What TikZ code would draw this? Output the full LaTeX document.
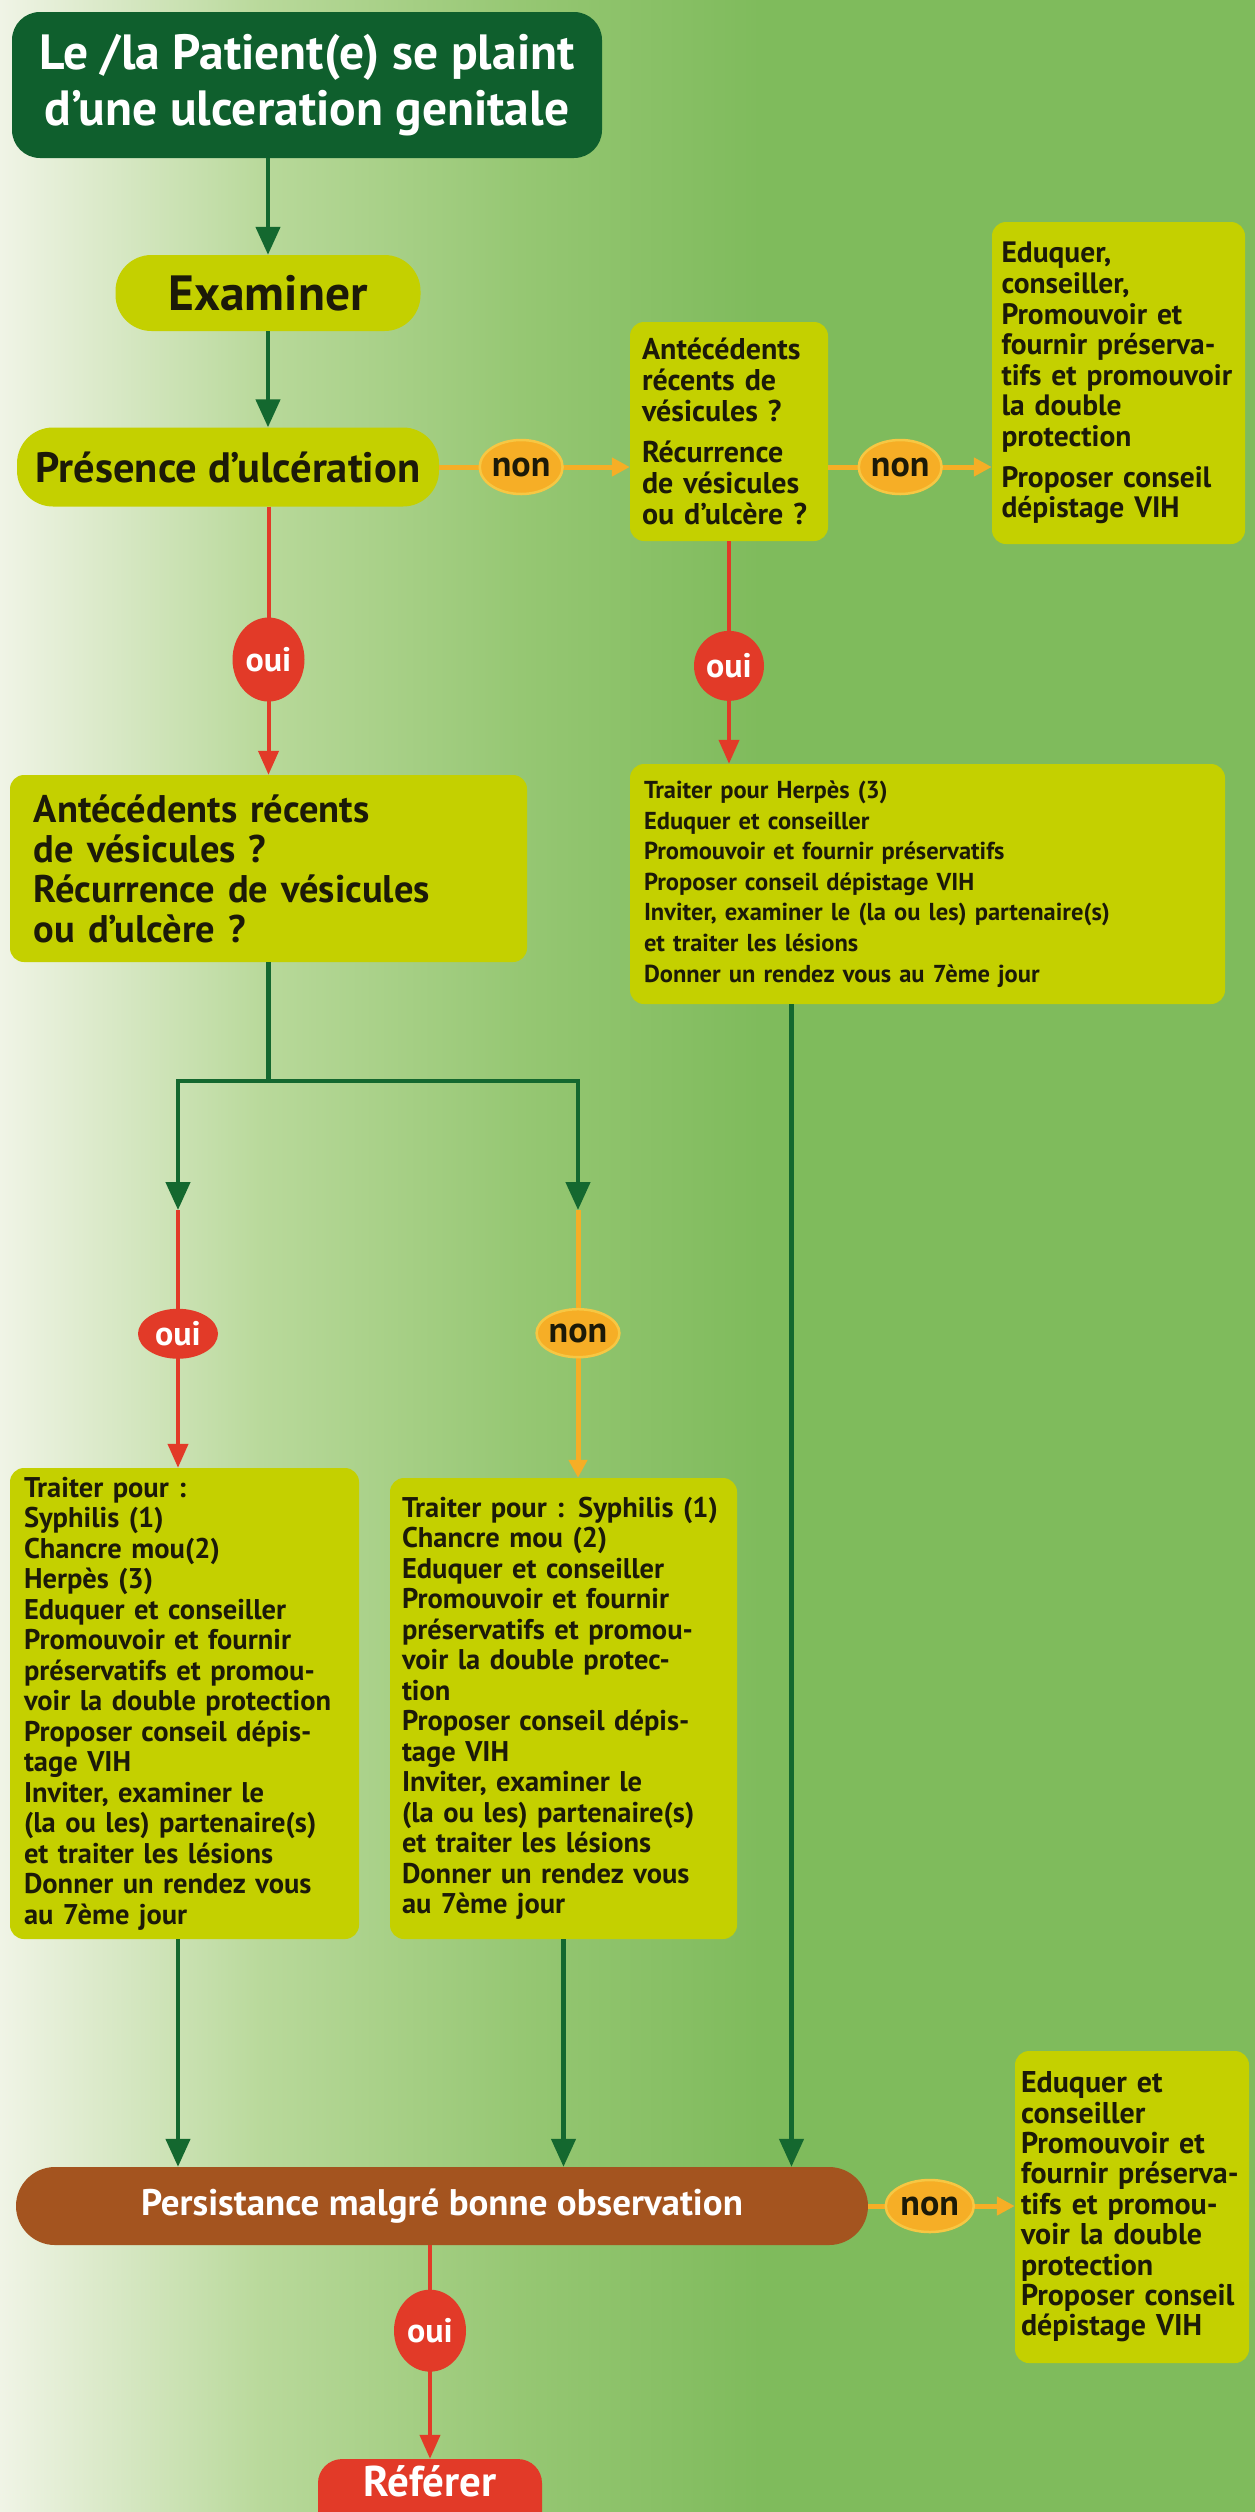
\documentclass[tikz,border=0pt]{standalone}
\usepackage{fontspec}
\setmainfont{PT Sans}
\usepackage{xcolor}
\usepackage{tikz}
\usetikzlibrary{shapes.geometric, arrows.meta}

\definecolor{bgwhite}{HTML}{F0F4E6}
\definecolor{bglight}{HTML}{B9D99B}
\definecolor{bgmid}{HTML}{96C773}
\definecolor{bggreen}{HTML}{7FBB5C}
\definecolor{boxyellow}{HTML}{C4D000}
\definecolor{darkgreen}{HTML}{0F5F2D}
\definecolor{arrowgreen}{HTML}{14682F}
\definecolor{ouired}{HTML}{E23A28}
\definecolor{nonorange}{HTML}{F6AE26}
\definecolor{nonglow}{HTML}{F7C743}
\definecolor{persistbrown}{HTML}{A4541F}
\definecolor{inkdark}{HTML}{1C1A08}

\begin{document}
\begin{tikzpicture}[
	x=1pt, y=-1pt,
	every node/.style={font=\bfseries, inner sep=0pt},
	startbox/.style={fill=darkgreen, text=white, rounded corners=28pt, align=center, font=\bfseries\fontsize{49.5}{56}\selectfont},
	pill/.style={fill=boxyellow, text=inkdark, rounded corners=36pt, align=center},
	box/.style={fill=boxyellow, text=inkdark, rounded corners=14pt, align=left, inner xsep=14pt},
	small/.style={font=\bfseries\fontsize{28.5}{30.5}\selectfont},
	nonlabel/.style={ellipse, fill=nonorange, draw=nonglow, line width=2.5pt, text=inkdark, minimum width=80pt, minimum height=54pt, font=\bfseries\fontsize{36}{36}\selectfont},
	ouilabel/.style={ellipse, fill=ouired, text=white, minimum width=72pt, minimum height=84pt, font=\bfseries\fontsize{34}{34}\selectfont},
	greenedge/.style={draw=arrowgreen, line width=4.5pt, -{Triangle[width=24pt,length=28pt]}},
	rededge/.style={draw=ouired, line width=4pt, -{Triangle[width=20pt,length=24pt]}},
	orangeedge/.style={draw=nonorange, line width=5pt, -{Triangle[width=18pt,length=18pt]}}
	]
	
	% Background
	\path[use as bounding box] (0,0) rectangle (1255,2512);
	\clip (0,0) rectangle (1255,2512);
	\shade[left color=bgwhite, right color=bglight] (0,0) rectangle (261,2512);
	\shade[left color=bglight, right color=bgmid] (260,0) rectangle (521,2512);
	\shade[left color=bgmid, right color=bggreen] (520,0) rectangle (761,2512);
	\fill[bggreen] (760,0) rectangle (1255,2512);
	
	% Define nodes
	\node[startbox, minimum width=590pt, minimum height=146pt] (start) at (307,85) {Le /la Patient(e) se plaint\\d’une ulceration genitale};
	\node[pill, minimum width=305pt, minimum height=76pt, font=\bfseries\fontsize{49.5}{49.5}\selectfont] (exam) at (268,293) {Examiner};
	\node[pill, minimum width=422pt, minimum height=79pt, font=\bfseries\fontsize{42.5}{42.5}\selectfont] (pres) at (228,467) {Présence d’ulcération};
	\node[box, inner xsep=12pt, text width=174pt, minimum height=219pt, font=\bfseries\fontsize{30}{31}\selectfont] (quest2) at (729,431.5) {Antécédents\\récents de\\vésicules ?\\[10pt]Récurrence\\de vésicules\\ou d’ulcère ?};
	\node[box, inner xsep=9.5pt, text width=234pt, minimum height=322pt, font=\bfseries\fontsize{29.5}{30.6}\selectfont] (conseil1) at (1118.5,383) {Eduquer,\\conseiller,\\Promouvoir et\\fournir préserva-\\tifs et promouvoir\\la double\\protection\\[10pt]Proposer conseil\\dépistage VIH};
	\node[box, inner xsep=24pt, text width=469pt, minimum height=187pt, font=\bfseries\fontsize{38.5}{40}\selectfont] (quest1) at (268.5,868.5) {Antécédents récents\\de vésicules ?\\Récurrence de vésicules\\ou d’ulcère ?};
	\node[box, text width=567pt, minimum height=240pt, font=\bfseries\fontsize{24.5}{30.6}\selectfont] (herpes) at (927.5,884) {Traiter pour Herpès (3)\\Eduquer et conseiller\\Promouvoir et fournir préservatifs\\Proposer conseil dépistage VIH\\Inviter, examiner le (la ou les) partenaire(s)\\et traiter les lésions\\Donner un rendez vous au 7ème jour};
	\node[box, small, text width=321pt, minimum height=471pt] (lefttreat) at (184.5,1703.5) {Traiter pour :\\Syphilis (1)\\Chancre mou(2)\\Herpès (3)\\Eduquer et conseiller\\Promouvoir et fournir\\préservatifs et promou-\\voir la double protection\\Proposer conseil dépis-\\tage VIH\\Inviter, examiner le\\(la ou les) partenaire(s)\\et traiter les lésions\\Donner un rendez vous\\au 7ème jour};
	\node[box, small, inner xsep=12pt, text width=323pt, minimum height=461pt] (midtreat) at (563.5,1708.5) {Traiter pour : Syphilis (1)\\Chancre mou (2)\\Eduquer et conseiller\\Promouvoir et fournir\\préservatifs et promou-\\voir la double protec-\\tion\\Proposer conseil dépis-\\tage VIH\\Inviter, examiner le\\(la ou les) partenaire(s)\\et traiter les lésions\\Donner un rendez vous\\au 7ème jour};
	\node[pill, fill=persistbrown, text=white, rounded corners=39pt, minimum width=852pt, minimum height=78pt, font=\bfseries\fontsize{37}{37}\selectfont] (persist) at (442,2206) {Persistance malgré bonne observation};
	\node[box, inner xsep=6pt, text width=222pt, minimum height=312pt, font=\bfseries\fontsize{30}{30.4}\selectfont] (conseil2) at (1132,2207) {Eduquer et\\conseiller\\Promouvoir et\\fournir préserva-\\tifs et promou-\\voir la double\\protection\\Proposer conseil\\dépistage VIH};
	\node[pill, fill=ouired, text=white, rounded corners=24pt, minimum width=224pt, inner ysep=6pt, text depth=40pt, anchor=base, font=\bfseries\fontsize{43}{43}\selectfont] (refer) at (430,2496) {Référer};
	
	\coordinate (forkL) at (178,1210);
	\coordinate (forkR) at (578,1210);
	
	% Draw edges
	\path[greenedge] (exam.north |- start.south) -- (exam.north);
	\path[greenedge] (exam.south) -- (exam.south |- pres.north);
	\path[orangeedge] (pres.east) -- node[nonlabel, pos=0.43] (non1) {non} (pres.east -| quest2.west);
	\path[orangeedge] (quest2.east |- pres.east) -- node[nonlabel, pos=0.44] (non2) {non} (conseil1.west |- pres.east);
	\path[rededge] (pres.south -| quest1.north) -- node[ouilabel, pos=0.57] (oui1) {oui} (quest1.north);
	\path[rededge] (quest2.south) -- node[ouilabel, minimum width=70pt, minimum height=70pt, pos=0.56] (oui2) {oui} (quest2.south |- herpes.north);
	\path[draw=arrowgreen, line width=4.5pt] (quest1.south) -- ++(0,119) coordinate (fork);
	\path[greenedge] (fork) -| (forkL);
	\path[greenedge] (fork) -| (forkR);
	\path[rededge] (forkL) -- node[ouilabel, minimum width=80pt, minimum height=50pt, pos=0.48] (oui3) {oui} (forkL |- lefttreat.north);
	\path[orangeedge] (forkR) -- node[nonlabel, minimum width=72pt, minimum height=48pt, pos=0.46] (non3) {non} (forkR |- midtreat.north);
	\path[greenedge] (forkL |- lefttreat.south) -- (forkL |- persist.north);
	\path[greenedge] (midtreat.south) -- (midtreat.south |- persist.north);
	\path[greenedge] ([xshift=-136pt]herpes.south) -- ([xshift=-136pt]herpes.south |- persist.north);
	\path[orangeedge] (persist.east) -- node[nonlabel, minimum width=88pt, minimum height=52pt, pos=0.42] (non4) {non} (conseil2.west |- persist.east);
	\path[rededge] (persist.south -| refer.north) -- node[ouilabel, minimum width=72pt, minimum height=82pt, pos=0.4] (oui4) {oui} (refer.north);
	
\end{tikzpicture}
\end{document}
